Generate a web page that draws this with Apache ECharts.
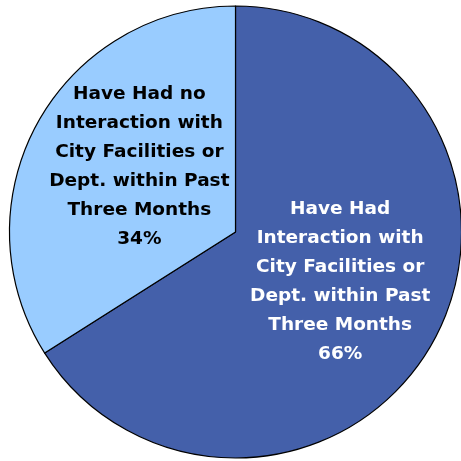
<!DOCTYPE html>
<html>
<head>
<meta charset="utf-8">
<script src="https://cdn.jsdelivr.net/npm/echarts@6/dist/echarts.min.js"></script>
<style>
  html, body { margin: 0; padding: 0; background: #ffffff; }
  #chart { width: 461px; height: 461px; }
</style>
</head>
<body>
<div id="chart"></div>
<script>
// Share of respondents by contact with city facilities or departments
const categories = [
  'Have Had\nInteraction with\nCity Facilities or\nDept. within Past\nThree Months',
  'Have Had no\nInteraction with\nCity Facilities or\nDept. within Past\nThree Months'
];
const values = [66, 34];
const sliceColors = ['#4460AA', '#99CCFF'];
const labelColors = ['#ffffff', '#000000'];
const labelOffsets = [[3, -6], [5.5, -9]];

const chart = echarts.init(document.getElementById('chart'), null, { renderer: 'canvas' });

chart.setOption({
  animation: false,
  backgroundColor: '#ffffff',
  series: [{
    type: 'pie',
    center: [235.5, 232],
    radius: [0, 226],
    startAngle: 90,
    clockwise: true,
    avoidLabelOverlap: false,
    silent: true,
    label: {
      show: true,
      position: 'inside',
      fontFamily: 'DejaVu Sans, sans-serif',
      fontWeight: 'bold',
      fontSize: 18.5,
      lineHeight: 29,
      align: 'center',
      formatter: p => p.name + '\n' + p.value + '%'
    },
    labelLine: { show: false },
    itemStyle: { borderColor: '#000000', borderWidth: 1.2 },
    data: categories.map((name, i) => ({
      name: name,
      value: values[i],
      itemStyle: { color: sliceColors[i] },
      label: { color: labelColors[i], offset: labelOffsets[i] }
    }))
  }]
});
</script>
</body>
</html>
